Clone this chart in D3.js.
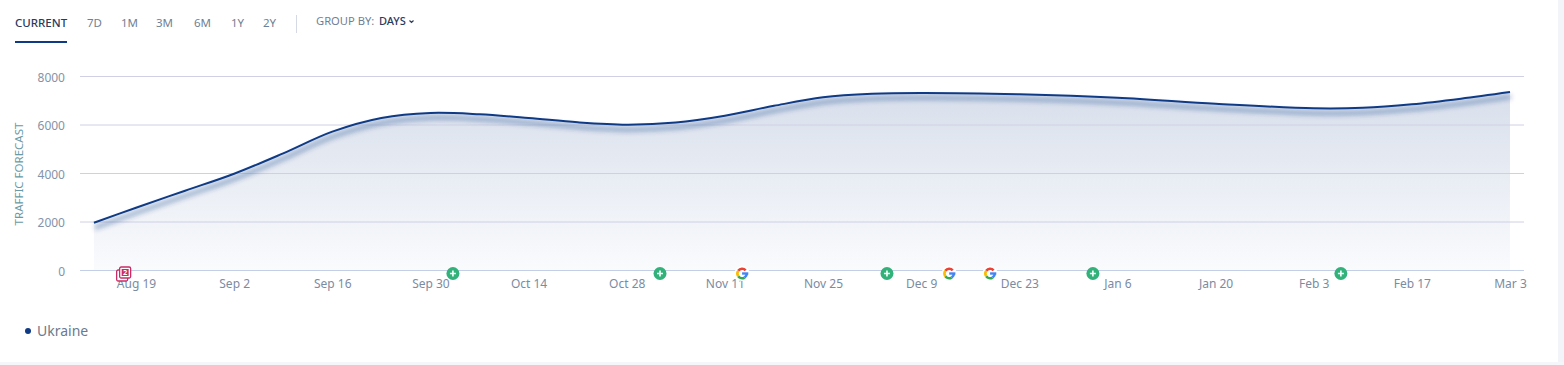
<!DOCTYPE html>
<html>
<head>
<meta charset="utf-8">
<script src="https://cdn.jsdelivr.net/npm/d3@7"></script>
<style>
  html, body { margin: 0; padding: 0; background: #fff; overflow: hidden; }
  svg { display: block; font-family: "Noto Sans", sans-serif; }
  .axis-x text { fill: #7b8ba3; font-size: 12px; }
  .axis-y text { fill: #8493a8; font-size: 12px; }
</style>
</head>
<body>
<svg width="1564" height="365"></svg>
<script>
const dates = ['2022-08-13','2022-08-19','2022-08-26','2022-09-02','2022-09-09','2022-09-16','2022-09-23','2022-09-30','2022-10-07','2022-10-14','2022-10-21','2022-10-28','2022-11-04','2022-11-11','2022-11-18','2022-11-25','2022-12-02','2022-12-09','2022-12-23','2023-01-06','2023-01-20','2023-02-03','2023-02-10','2023-02-17','2023-02-24','2023-03-03'];
const traffic = [1970, 2590, 3290, 3990, 4830, 5725, 6290, 6495, 6440, 6290, 6110, 6015, 6100, 6385, 6790, 7140, 7285, 7320, 7265, 7125, 6880, 6690, 6710, 6855, 7085, 7360];
const xTicks = ['2022-08-19','2022-09-02','2022-09-16','2022-09-30','2022-10-14','2022-10-28','2022-11-11','2022-11-25','2022-12-09','2022-12-23','2023-01-06','2023-01-20','2023-02-03','2023-02-17','2023-03-03'];
const yTicks = [0, 2000, 4000, 6000, 8000];
const greenEvents = ['2022-10-03T05','2022-11-01T18','2022-12-04T03','2023-01-02T12','2023-02-06T21'];
const googleEvents = ['2022-11-13T11','2022-12-13T00','2022-12-18T20'];
const noteEvents = ['2022-08-17T04'];
const noteCounts = [2];
const tabs = ['CURRENT','7D','1M','3M','6M','1Y','2Y'];
const tabX = [15, 87, 121, 156, 194, 231, 263];

const parse = d3.utcParse('%Y-%m-%d');
const parseHour = d3.utcParse('%Y-%m-%dT%H');
const svg = d3.select('svg');
const navy = '#0f3a85';

const xScale = d3.scaleUtc()
    .domain([parse('2022-08-19'), parse('2023-03-03')])
    .range([136, 1510]);
const yScale = d3.scaleLinear()
    .domain([0, 8000])
    .range([270.5, 76.5]);

const data = dates.map((d, i) => ({ date: parse(d), value: traffic[i] }));

// page edges
svg.append('rect').attr('x', 1558).attr('y', 0).attr('width', 6).attr('height', 365).attr('fill', '#f2f4f9');
svg.append('rect').attr('x', 0).attr('y', 362).attr('width', 1564).attr('height', 3).attr('fill', '#f5f6fa');

const defs = svg.append('defs');
const grad = defs.append('linearGradient').attr('id', 'areaFill')
    .attr('x1', 0).attr('y1', 0).attr('x2', 0).attr('y2', 1);
grad.append('stop').attr('offset', 0).attr('stop-color', '#d8dfeb');
grad.append('stop').attr('offset', 1).attr('stop-color', '#fafbfd');
defs.append('filter').attr('id', 'blur').attr('x', '-5%').attr('y', '-20%').attr('width', '110%').attr('height', '140%')
    .append('feGaussianBlur').attr('stdDeviation', 2.5);

// tabs
svg.append('g').selectAll('text').data(tabs).enter().append('text')
    .attr('x', (d, i) => tabX[i])
    .attr('y', 27)
    .attr('font-size', 11.5)
    .attr('font-weight', (d, i) => i === 0 ? 500 : 400)
    .attr('fill', (d, i) => i === 0 ? '#2a3a5e' : '#6f7f95')
    .text(d => d);
svg.append('rect').attr('x', 15).attr('y', 41).attr('width', 52).attr('height', 2).attr('fill', navy);
svg.append('rect').attr('x', 296).attr('y', 15).attr('width', 1).attr('height', 18).attr('fill', '#d5d9e6');
svg.append('text').attr('x', 316).attr('y', 25).attr('font-size', 11.2).attr('fill', '#6f7f95').text('GROUP BY:');
svg.append('text').attr('x', 379).attr('y', 25).attr('font-size', 11).attr('font-weight', 500).attr('fill', '#2a3a5e').text('DAYS');
svg.append('path').attr('d', 'M409.5 20.5l2 2 2-2').attr('fill', 'none').attr('stroke', '#2a3a5e').attr('stroke-width', 1.2);

const curve = d3.curveCatmullRom.alpha(0.5);
const area = d3.area().x(d => xScale(d.date)).y0(yScale(0)).y1(d => yScale(d.value)).curve(curve);
const line = d3.line().x(d => xScale(d.date)).y(d => yScale(d.value)).curve(curve);

svg.append('path').datum(data).attr('d', area).attr('fill', 'url(#areaFill)');

// grid
svg.append('g').selectAll('line').data(yTicks).enter().append('line')
    .attr('x1', 80).attr('x2', 1524)
    .attr('y1', d => yScale(d)).attr('y2', d => yScale(d))
    .attr('stroke', d => d === 0 ? '#c3cfe6' : '#cfd0e4')
    .attr('stroke-width', 1);

const yAxisG = svg.append('g').attr('class', 'axis-y')
    .attr('transform', 'translate(65,1)')
    .call(d3.axisLeft(yScale).tickValues(yTicks).tickSize(0).tickPadding(0).tickFormat(d => d))
    .attr('font-family', null);
yAxisG.select('.domain').remove();

const xAxisG = svg.append('g').attr('class', 'axis-x')
    .attr('transform', 'translate(0,270.5)')
    .call(d3.axisBottom(xScale).tickValues(xTicks.map(parse)).tickSize(0).tickPadding(9).tickFormat(d3.utcFormat('%b %-d')))
    .attr('font-family', null);
xAxisG.select('.domain').remove();

svg.append('text')
    .attr('transform', 'translate(23,174) rotate(-90)')
    .attr('text-anchor', 'middle')
    .attr('font-size', 11.5)
    .attr('fill', '#6a9aa5')
    .text('TRAFFIC FORECAST');

// line and its shadow
svg.append('path').datum(data).attr('d', line)
    .attr('transform', 'translate(1,5)')
    .attr('fill', 'none').attr('stroke', '#0f3a85').attr('stroke-opacity', 0.42).attr('stroke-width', 3.5)
    .attr('filter', 'url(#blur)');
svg.append('path').datum(data).attr('d', line)
    .attr('fill', 'none').attr('stroke', navy).attr('stroke-width', 2);

// event markers
const markerY = 273.5;
const green = svg.append('g').selectAll('g').data(greenEvents).enter().append('g')
    .attr('transform', d => `translate(${xScale(parseHour(d))},${markerY})`);
green.append('circle').attr('r', 6.5).attr('fill', '#30b27a');
green.append('path').attr('d', 'M-3 0H3M0-3V3').attr('stroke', '#fff').attr('stroke-width', 1.6);

const arc = d3.arc().innerRadius(3.4).outerRadius(6);
const gParts = [
  { color: '#ea4335', start: -0.95, end: 0.85 },
  { color: '#4285f4', start: 1.57, end: 2.6 },
  { color: '#34a853', start: 2.6, end: 4.1 },
  { color: '#fbbc05', start: 4.1, end: 5.33 }
];
const goog = svg.append('g').selectAll('g').data(googleEvents).enter().append('g')
    .attr('transform', d => `translate(${xScale(parseHour(d))},${markerY})`);
goog.append('circle').attr('r', 7.5).attr('fill', '#fff');
goog.selectAll('path').data(gParts).enter().append('path')
    .attr('d', d => arc({ startAngle: d.start, endAngle: d.end }))
    .attr('fill', d => d.color);
goog.append('rect').attr('x', 0).attr('y', -1.2).attr('width', 6.2).attr('height', 2.4).attr('fill', '#4285f4');

const note = svg.append('g').selectAll('g').data(noteEvents).enter().append('g')
    .attr('transform', d => `translate(${xScale(parseHour(d))},${markerY})`);
note.append('rect').attr('x', -6.5).attr('y', -3.5).attr('width', 11).attr('height', 11).attr('rx', 1.5)
    .attr('fill', '#fff').attr('stroke', '#c92c66').attr('stroke-width', 1.3);
note.append('rect').attr('x', -3.5).attr('y', -6.5).attr('width', 11).attr('height', 11).attr('rx', 1.5)
    .attr('fill', '#fff').attr('stroke', '#c92c66').attr('stroke-width', 1.3);
note.append('rect').attr('x', -1.5).attr('y', -4.5).attr('width', 7).attr('height', 7)
    .attr('fill', '#c92c66');
note.append('text').attr('x', 2).attr('y', 1.5).attr('text-anchor', 'middle')
    .attr('font-size', 7.5).attr('font-weight', 700).attr('fill', '#fff').text(noteCounts[0]);

// legend
svg.append('circle').attr('cx', 28).attr('cy', 331).attr('r', 3).attr('fill', navy);
svg.append('text').attr('x', 37).attr('y', 336).attr('font-size', 14).attr('fill', '#6b7a8f').text('Ukraine');
</script>
</body>
</html>
